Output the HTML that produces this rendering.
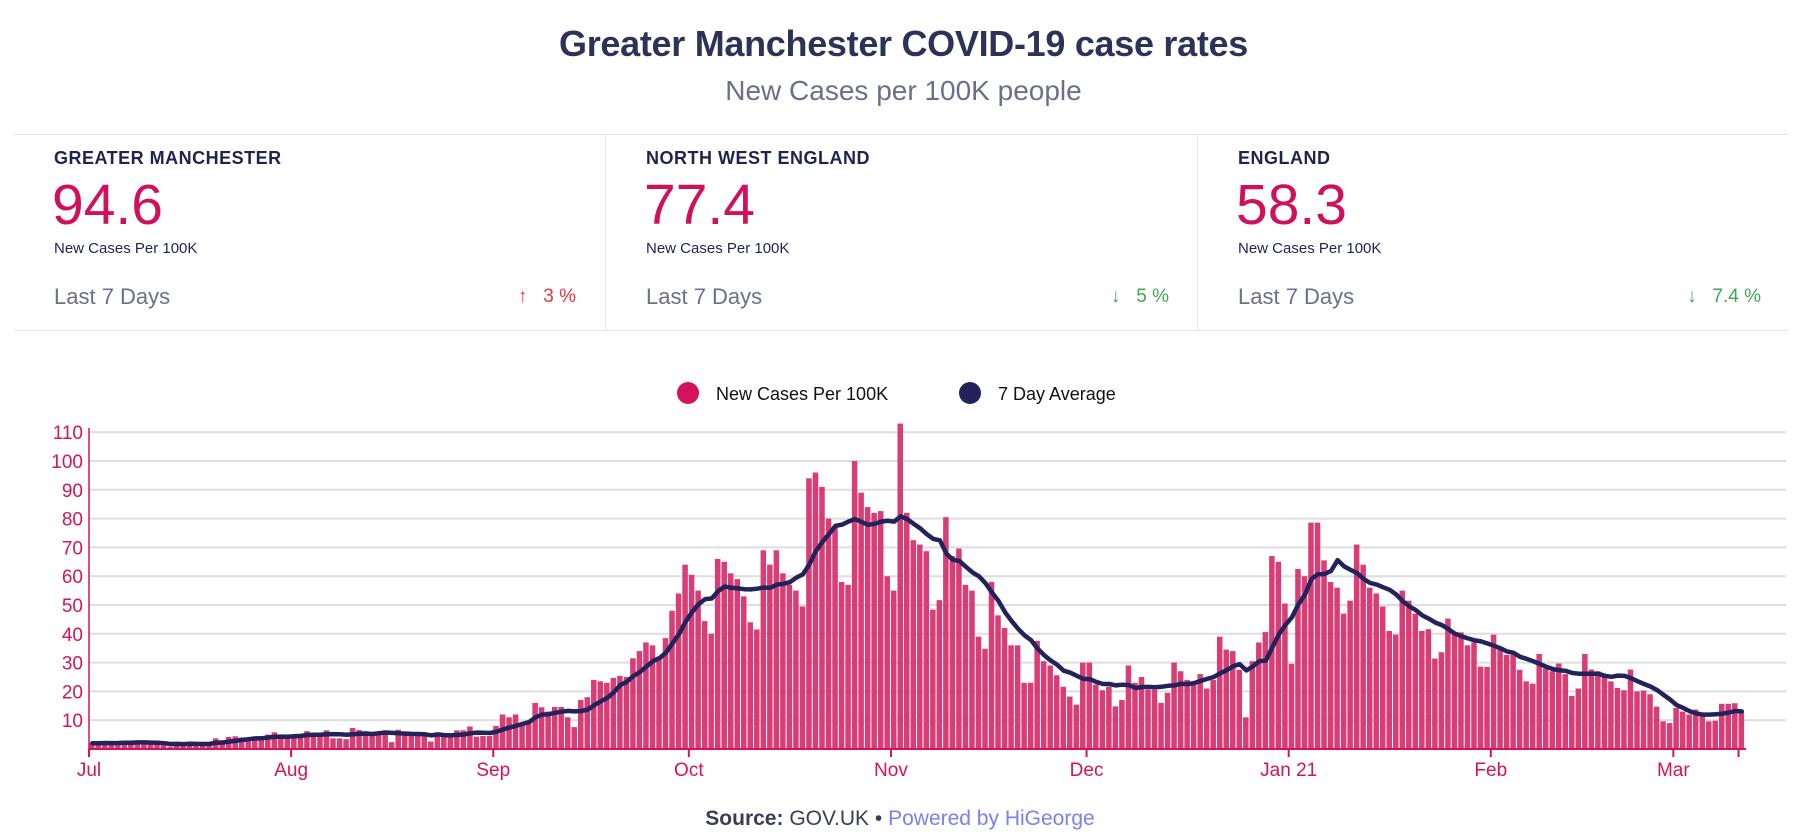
<!DOCTYPE html>
<html><head><meta charset="utf-8">
<style>
html,body{margin:0;padding:0;background:#fff;}
body{width:1807px;height:838px;position:relative;overflow:hidden;font-family:"Liberation Sans",Arial,sans-serif;}
.abs{position:absolute;white-space:nowrap;}
.title{left:0;width:1807px;text-align:center;top:23px;font-size:36px;font-weight:bold;color:#2d3358;letter-spacing:-0.3px;}
.sub{left:0;width:1807px;text-align:center;top:75px;font-size:28px;color:#6b6f8a;}
.cards{left:14px;top:134px;width:1774px;height:195px;border-top:1.5px solid #dde5f3;border-bottom:1.5px solid #dde5f3;}
.div{top:134px;height:196px;width:0;border-left:1.5px solid #dde5f3;}
.lab{font-size:18px;font-weight:bold;color:#1e2350;letter-spacing:0.5px;top:148px;}
.big{font-size:57px;color:#d0105a;top:172px;}
.small{font-size:15px;color:#1e2350;top:240px;}
.last{font-size:22px;color:#6b6f8a;top:284px;}
.chg{font-size:19px;top:286px;text-align:right;}
</style></head><body>
<div class="abs title">Greater Manchester COVID-19 case rates</div>
<div class="abs sub">New Cases per 100K people</div>
<div class="abs cards"></div>
<div class="abs div" style="left:605px"></div>
<div class="abs div" style="left:1197px"></div>

<div class="abs lab" style="left:54px">GREATER MANCHESTER</div>
<div class="abs big" style="left:52px">94.6</div>
<div class="abs small" style="left:54px">New Cases Per 100K</div>
<div class="abs last" style="left:54px">Last 7 Days</div>
<div class="abs chg" style="right:1231px;color:#e0383e">↑&nbsp;&nbsp;&nbsp;3 %</div>

<div class="abs lab" style="left:646px">NORTH WEST ENGLAND</div>
<div class="abs big" style="left:644px">77.4</div>
<div class="abs small" style="left:646px">New Cases Per 100K</div>
<div class="abs last" style="left:646px">Last 7 Days</div>
<div class="abs chg" style="right:638px;color:#3aa856">↓&nbsp;&nbsp;&nbsp;5 %</div>

<div class="abs lab" style="left:1238px">ENGLAND</div>
<div class="abs big" style="left:1236px">58.3</div>
<div class="abs small" style="left:1238px">New Cases Per 100K</div>
<div class="abs last" style="left:1238px">Last 7 Days</div>
<div class="abs chg" style="right:46px;color:#3aa856">↓&nbsp;&nbsp;&nbsp;7.4 %</div>

<svg id="chart" class="abs" style="left:0;top:0" width="1807" height="838"></svg>

<script>
const monthLabels = ["Jul","Aug","Sep","Oct","Nov","Dec","Jan 21","Feb","Mar"];
const monthStartDays = [0,31,62,92,123,153,184,215,243];
const yTicks = [10,20,30,40,50,60,70,80,90,100,110];
const julCases = [2,2,2.2,2,2.2,2.8,2.2,2.6,2,1.8,1.5,1.2,0.8,2.5,2.2,2.6,1.5,1.4,1.5,3.7,3,4.2,4.4,4,3,3.4,4,5,5.8,5,3.6];
const augCases = [4,4.5,6.2,5.5,5.7,6.5,3.7,3.7,3.4,7.3,6.6,6.2,5.6,5.6,5.4,2.4,6.7,5.5,5.4,5.4,5,2.6,5,4.9,4.8,6.5,6.5,7.8,4.3,4.5,4.5];
const sepCases = [8,12,11,12,9,9,16,14.5,13,14.6,14.6,11,7.6,17,18,24,23.5,23,24.7,25.4,25,31.5,34,37,36,32,38.5,48,54,64];
const octCases = [60.5,55,44.4,40,66,65,61,59,53,44,41.5,69,64,69,61,57,55,49.5,94,96,91,80,77,58,57,100,89,84,82,82.6,60];
const novCases = [55,113,82,72.5,71,68.7,48.4,51.7,80.5,67,69.6,57,55,39,34.8,58,46.4,42,36,36,23,23,37.5,30.5,29,25.6,21.6,18.2,15.4,30];
const decCases = [30,22.4,20.4,21.6,14.8,17,29,23,25,20.6,20.6,16,19.5,30,27,24,23,26,21,24,39,34.5,34,27.5,11,30.5,37,40.6,67,65,50.5];
const janCases = [29.6,62.5,60,78.6,78.6,65.5,58,56,47,51.5,71,64,56,54,49.5,41,39.7,55,51.5,47,41,41.6,31.4,33.6,45.3,40.5,40.5,36,37,28.6,28.5];
const febCases = [39.7,34.5,32.7,32.7,27.5,23.5,22.7,33,28,27,29.7,26,18.4,21,33,27.6,27,25,23.5,21.2,20.4,27.6,20,20.3,19,14.7,9.6,9];
const marCases = [14.3,13,12,13.7,12,9.6,9.8,15.7,15.7,15.9,12.7];

const cases = [].concat(julCases,augCases,sepCases,octCases,novCases,decCases,janCases,febCases,marCases);
// 7-day rolling average of the daily series
const avg7 = cases.map((v,i)=>{const s=cases.slice(Math.max(0,i-6),i+1);return s.reduce((a,b)=>a+b,0)/s.length;});

const NS="http://www.w3.org/2000/svg";
const svg=document.getElementById('chart');
const X0=89, DAY=6.52, Y0=749, PX10=28.8, XR=1786;
const xs=d=>X0+d*DAY;
const ys=v=>Y0-v*PX10/10;
function mk(tag,attrs){const e=document.createElementNS(NS,tag);for(const k in attrs)e.setAttribute(k,attrs[k]);svg.appendChild(e);return e;}

yTicks.forEach(t=>{
  const g=mk('line',{x1:X0,x2:XR,y1:ys(t),y2:ys(t),stroke:'#dedede','stroke-width':2});
  
  
  const l=mk('text',{x:83,y:ys(t)+7,'text-anchor':'end','font-size':19,fill:'#d4145a','font-family':'Liberation Sans, Arial, sans-serif'});
  l.textContent=t;
  
  
});

cases.forEach((v,i)=>{
  const r=mk('rect',{x:xs(i),y:ys(v),width:DAY-1,height:Y0-ys(v),fill:'#d7336f','fill-opacity':0.95});
  
  
});

const ax=mk('line',{x1:X0,x2:xs(cases.length)+1,y1:Y0,y2:Y0,stroke:'#d4145a','stroke-width':2});


const ay=mk('line',{x1:X0,x2:X0,y1:428,y2:756,stroke:'#d4145a','stroke-width':1.5});



monthLabels.forEach((m,i)=>{
  const x=xs(monthStartDays[i]);
  const t=mk('line',{x1:x,x2:x,y1:Y0,y2:757,stroke:'#d4145a','stroke-width':2});
  
  
  const l=mk('text',{x:x,y:776,'text-anchor':'middle','font-size':19,fill:'#d4145a','font-family':'Liberation Sans, Arial, sans-serif'});
  l.textContent=m;
  
  
});
const lt=mk('line',{x1:xs(cases.length-1),x2:xs(cases.length-1),y1:Y0,y2:757,stroke:'#d4145a','stroke-width':2});



const pts=avg7.map((v,i)=>(xs(i)+DAY/2).toFixed(1)+','+ys(v).toFixed(1)).join(' ');
const pl=mk('polyline',{points:pts,fill:'none',stroke:'#23235b','stroke-width':4.5,'stroke-linejoin':'round','stroke-linecap':'round'});



// legend
const c1=mk('circle',{cx:688,cy:393,r:11,fill:'#d4145a'});


const t1=mk('text',{x:716,y:400,'font-size':18,fill:'#111','font-family':'Liberation Sans, Arial, sans-serif'});
t1.textContent='New Cases Per 100K';


const c2=mk('circle',{cx:970,cy:393,r:11,fill:'#23235b'});


const t2=mk('text',{x:998,y:400,'font-size':18,fill:'#111','font-family':'Liberation Sans, Arial, sans-serif'});
t2.textContent='7 Day Average';



// source
const src=mk('text',{x:900,y:825,'text-anchor':'middle','font-size':21,fill:'#3a3d55','font-family':'Liberation Sans, Arial, sans-serif'});


const s1=document.createElementNS(NS,'tspan');s1.setAttribute('font-weight','bold');s1.textContent='Source: ';src.appendChild(s1);
const s2=document.createElementNS(NS,'tspan');s2.textContent='GOV.UK • ';src.appendChild(s2);
const s3=document.createElementNS(NS,'tspan');s3.setAttribute('fill','#7b7ff0');s3.textContent='Powered by HiGeorge';src.appendChild(s3);
</script>
</body></html>
